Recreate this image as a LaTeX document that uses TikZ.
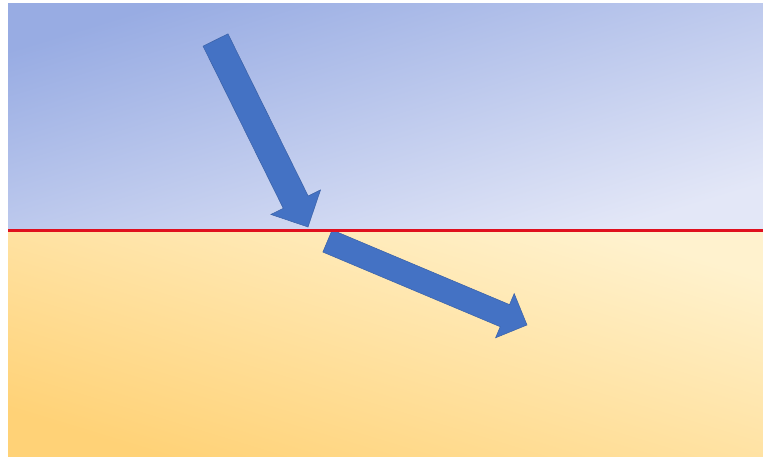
\documentclass[tikz,border=0pt]{standalone}
\usepackage{xcolor}
\usepackage{tikz}
\usetikzlibrary{calc}
\definecolor{skytop}{HTML}{98ACE3}
\definecolor{skylow}{HTML}{E3E7F7}
\definecolor{sanddeep}{HTML}{FFD277}
\definecolor{sandpale}{HTML}{FFF2CE}
\definecolor{rayblue}{HTML}{4472C4}
\definecolor{edgered}{HTML}{E0101E}
\tikzset{
  skyzone/.style={top color=skytop,bottom color=skylow,shading angle=17},
  sandzone/.style={top color=sandpale,bottom color=sanddeep,shading angle=-17},
  rayfill/.style={fill=rayblue,draw=rayblue!85!black,line width=0.5pt,line join=miter},
  boundary/.style={draw=edgered,line width=2.4pt}
}
% fat arrow: tail, tip, half shaft, half head, head length
\newcommand{\rayarrow}[5]{%
  \coordinate (rb) at ($(#2)!#5!(#1)$);
  \path[rayfill] ($(#1)!#3!90:(#2)$) -- ($(rb)!#3!90:(#2)$) -- ($(rb)!#4!90:(#2)$)
    -- (#2) -- ($(rb)!#4!-90:(#2)$) -- ($(rb)!#3!-90:(#2)$) -- ($(#1)!#3!-90:(#2)$) -- cycle;
}

\begin{document}
\begin{tikzpicture}[x=1pt,y=1pt]
  \useasboundingbox (0,0) rectangle (763,457);
  % the two media
  \shade[skyzone] (8,226.5) rectangle (763,453);
  \shade[sandzone] (8,0) rectangle (763,226.5);
  % incoming and refracted ray
  \coordinate (incTail) at (215.5,417);
  \coordinate (incTip) at (308,230);
  \coordinate (refTail) at (327.5,216);
  \coordinate (refTip) at (527,132);
  \rayarrow{incTail}{incTip}{13.9pt}{27.7pt}{27.7pt}
  \rayarrow{refTail}{refTip}{12pt}{24pt}{24pt}
  % interface
  \coordinate (edgeL) at (8,226.5);
  \coordinate (edgeR) at (763,226.5);
  \draw[boundary] (edgeL) -- (edgeR);
\end{tikzpicture}
\end{document}
